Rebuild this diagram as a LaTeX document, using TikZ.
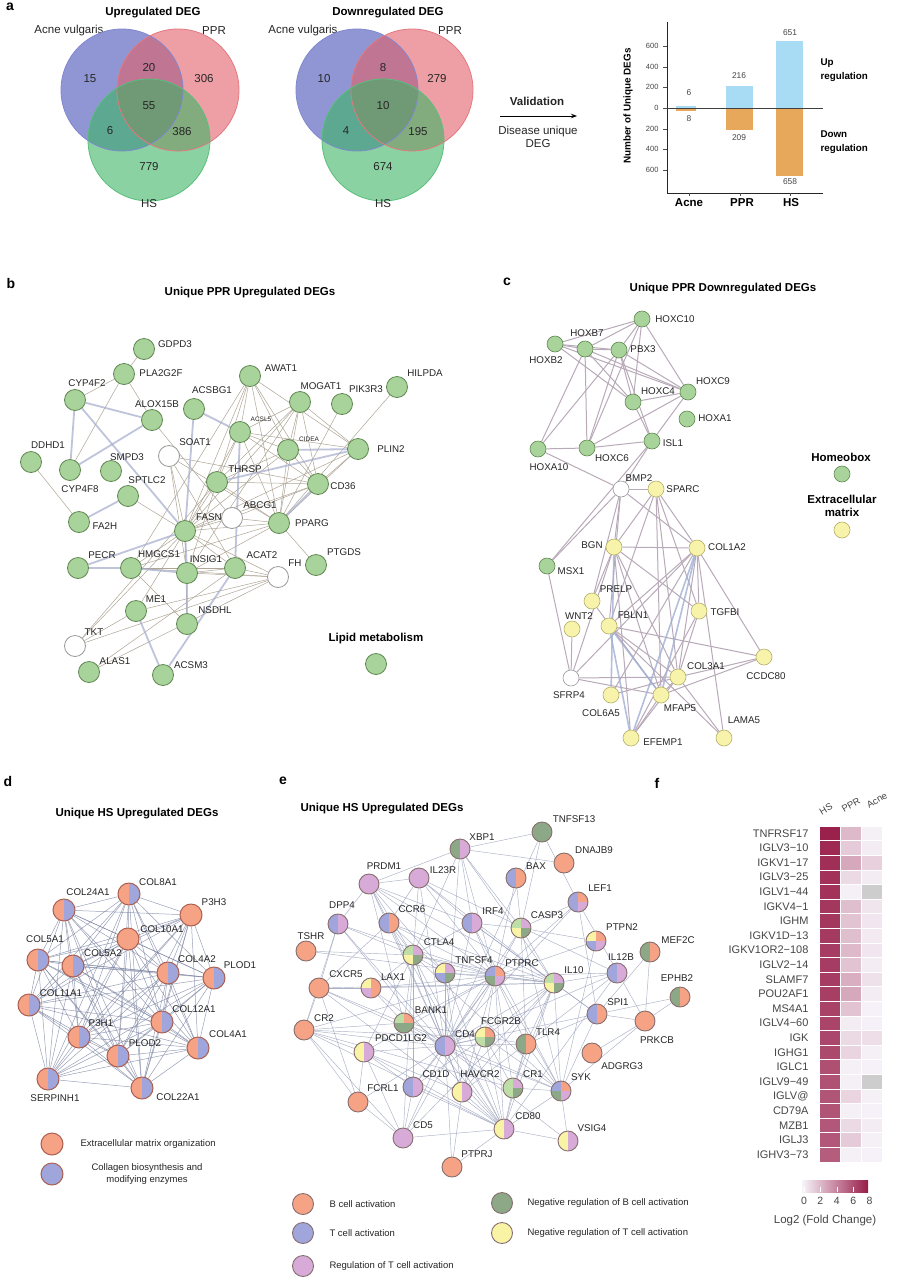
\documentclass[tikz,border=0pt]{standalone}
\usepackage{fontspec}
\setmainfont{Liberation Sans}
\usepackage{tikz}
\usetikzlibrary{positioning,arrows.meta,backgrounds}
\usepackage{xcolor}

\definecolor{vblue}{RGB}{85,95,190}
\definecolor{vred}{RGB}{225,95,105}
\definecolor{vgreen}{RGB}{60,180,100}
\definecolor{barup}{RGB}{168,220,245}
\definecolor{bardn}{RGB}{232,168,92}
\definecolor{lipid}{RGB}{168,212,155}
\definecolor{lipidln}{RGB}{95,135,80}
\definecolor{ecmfill}{RGB}{248,243,170}
\definecolor{ecmln}{RGB}{180,175,105}
\definecolor{bo}{RGB}{246,162,132}
\definecolor{tb}{RGB}{160,165,220}
\definecolor{rp}{RGB}{215,170,215}
\definecolor{ng}{RGB}{140,168,135}
\definecolor{ny}{RGB}{248,243,165}
\definecolor{lgr}{RGB}{190,222,168}
\definecolor{hm}{RGB}{152,28,72}
\definecolor{hmlow}{RGB}{247,244,250}
\definecolor{nagray}{RGB}{205,205,205}
\definecolor{txtgray}{RGB}{70,70,70}

% gene node plus its label
\newcommand{\gene}[5]{%
  \node[#1] (#2) at (#3) {};
  \node[lbl] (#2-t) at (#4) {#5};}

\begin{document}
\begin{tikzpicture}[x=1pt, y=-1pt,
  plet/.style={font=\fontsize{14}{16}\selectfont\bfseries},
  ttl/.style={font=\fontsize{11.5}{13}\selectfont\bfseries},
  num/.style={font=\fontsize{11.5}{13}\selectfont, text=black!85},
  lbl/.style={font=\fontsize{9.8}{11}\selectfont, text=black!85},
  lbls/.style={font=\fontsize{6.5}{8}\selectfont, text=black!85},
  leg/.style={font=\fontsize{9.5}{11.5}\selectfont, text=black!85},
  tick/.style={font=\fontsize{7.5}{9}\selectfont, text=txtgray},
  hdr/.style={font=\fontsize{9.5}{11}\selectfont, text=txtgray, rotate=30},
  gnode/.style={circle, draw, inner sep=0pt, line width=0.8pt},
  lipidn/.style={gnode, minimum size=21pt, fill=lipid, draw=lipidln},
  whiteb/.style={gnode, minimum size=21pt, fill=white, draw=black!40},
  homeo/.style={gnode, minimum size=16pt, fill=lipid, draw=lipidln, line width=0.6pt},
  ecm/.style={gnode, minimum size=16pt, fill=ecmfill, draw=ecmln, line width=0.6pt},
  whitec/.style={gnode, minimum size=16pt, fill=white, draw=black!40, line width=0.6pt},
  quad/.style n args={4}{path picture={
    \fill[#1] (path picture bounding box.center) rectangle (path picture bounding box.north west);
    \fill[#2] (path picture bounding box.center) rectangle (path picture bounding box.north east);
    \fill[#3] (path picture bounding box.center) rectangle (path picture bounding box.south west);
    \fill[#4] (path picture bounding box.center) rectangle (path picture bounding box.south east);}},
  half/.style 2 args={quad={#1}{#2}{#1}{#2}},
  col/.style={gnode, minimum size=22pt, draw={rgb,255:red,170;green,95;blue,80}, line width=1pt},
  en/.style={gnode, minimum size=20pt, draw={rgb,255:red,135;green,110;blue,110}, line width=0.9pt},
  eb/.style={draw={rgb,255:red,175;green,165;blue,150}, line width=0.5pt},
  ebk/.style={draw={rgb,255:red,165;green,172;blue,205}, line width=1.8pt, opacity=.7},
  ec/.style={draw={rgb,255:red,185;green,170;blue,185}, line width=1pt},
  ecb/.style={draw={rgb,255:red,160;green,175;blue,210}, line width=1.6pt, opacity=.8},
  ed/.style={draw={rgb,255:red,120;green,128;blue,160}, line width=0.5pt, opacity=.75},
  ee/.style={draw={rgb,255:red,150;green,158;blue,185}, line width=0.45pt, opacity=.8}
]
\useasboundingbox (0,0) rectangle (901,1280);
\begin{pgfonlayer}{background}
  \fill[white] (0,0) rectangle (901,1280);
\end{pgfonlayer}

% ---------- a: venns ----------
\node[plet] (pa) at (10,7) {a};
\node[ttl] (v1-t) at (153,13) {Upregulated DEG};
\node[num] (v1-a) at (69,31) {Acne vulgaris};
\node[num] (v1-p) at (214,31) {PPR};
\fill[vblue, fill opacity=.65] (122,90) circle[radius=61pt];
\fill[vred, fill opacity=.6] (178,90) circle[radius=61pt];
\fill[vgreen, fill opacity=.6] (149,140) circle[radius=61pt];
\draw[vblue!75, line width=.8pt] (122,90) circle[radius=61pt];
\draw[vred!85, line width=.8pt] (178,90) circle[radius=61pt];
\draw[vgreen!85, line width=.8pt] (149,140) circle[radius=61pt];
\node[num] (v1-n1) at (90,79) {15};
\node[num] (v1-n2) at (149,68) {20};
\node[num] (v1-n3) at (204,79) {306};
\node[num] (v1-n4) at (149,106) {55};
\node[num] (v1-n5) at (110,131) {6};
\node[num] (v1-n6) at (182,132) {386};
\node[num] (v1-n7) at (149,167) {779};
\node[num] (v1-h) at (149,204) {HS};

\node[ttl] (v2-t) at (388,13) {Downregulated DEG};
\node[num] (v2-a) at (303,31) {Acne vulgaris};
\node[num] (v2-p) at (450,31) {PPR};
\fill[vblue, fill opacity=.65] (357,90) circle[radius=61pt];
\fill[vred, fill opacity=.6] (412,90) circle[radius=61pt];
\fill[vgreen, fill opacity=.6] (383,140) circle[radius=61pt];
\draw[vblue!75, line width=.8pt] (357,90) circle[radius=61pt];
\draw[vred!85, line width=.8pt] (412,90) circle[radius=61pt];
\draw[vgreen!85, line width=.8pt] (383,140) circle[radius=61pt];
\node[num] (v2-n1) at (324,79) {10};
\node[num] (v2-n2) at (383,68) {8};
\node[num] (v2-n3) at (437,79) {279};
\node[num] (v2-n4) at (383,106) {10};
\node[num] (v2-n5) at (346,131) {4};
\node[num] (v2-n6) at (418,132) {195};
\node[num] (v2-n7) at (383,167) {674};
\node[num] (v2-h) at (383,204) {HS};

% validation arrow
\node[num, font=\fontsize{11.5}{13}\selectfont\bfseries] (val) at (537,101) {Validation};
\coordinate (va) at (500,116);
\coordinate (vb) at (577,116);
\draw[-{Stealth[length=6pt]}, line width=1pt] (va) -- (vb);
\node[num, align=center] (dud) at (538,137) {Disease unique\\DEG};

% bar chart
\fill[barup] (676,105.5) rectangle (696,108);
\fill[bardn] (676,108) rectangle (696,110.5);
\fill[barup] (726,85.7) rectangle (753,108);
\fill[bardn] (726,108) rectangle (753,129.6);
\fill[barup] (776,40.7) rectangle (803,108);
\fill[bardn] (776,108) rectangle (803,176);
\draw[line width=.8pt, black!85] (667,22) -- (667,193) -- (823,193);
\draw[line width=.8pt, black!75] (667,108) -- (823,108);
\foreach \v/\y [count=\k] in {600/46, 400/67, 200/87, 0/108, 200/129, 400/149, 600/170} {
  \draw[black!70] (663,\y) -- (667,\y);
  \node[tick, anchor=east] (yt\k) at (662,\y) {\v};
}
\foreach \x in {689,740,790} \draw[black!70] (\x,193) -- (\x,196);
\node[font=\fontsize{9.9}{11}\selectfont\bfseries, rotate=90] (ylab) at (628,106) {Number of Unique DEGs};
\node[tick, font=\fontsize{8.4}{10}\selectfont] (b1u) at (689,93) {6};
\node[tick, font=\fontsize{8.4}{10}\selectfont] (b1d) at (689,119) {8};
\node[tick, font=\fontsize{8.4}{10}\selectfont] (b2u) at (739,76) {216};
\node[tick, font=\fontsize{8.4}{10}\selectfont] (b2d) at (739,138) {209};
\node[tick, font=\fontsize{8.4}{10}\selectfont] (b3u) at (790,33) {651};
\node[tick, font=\fontsize{8.4}{10}\selectfont] (b3d) at (790,182) {658};
\node[font=\fontsize{11.5}{13}\selectfont\bfseries] (cat1) at (689,203) {Acne};
\node[font=\fontsize{11.5}{13}\selectfont\bfseries] (cat2) at (742,203) {PPR};
\node[font=\fontsize{11.5}{13}\selectfont\bfseries] (cat3) at (791,203) {HS};
\node[font=\fontsize{9.8}{14.5}\selectfont\bfseries, anchor=west, align=left] (upr) at (817,70) {Up\\regulation};
\node[font=\fontsize{9.8}{14.5}\selectfont\bfseries, anchor=west, align=left] (dnr) at (817,142) {Down\\regulation};

% ---------- b ----------
\node[plet] (pb) at (11,283) {b};
\node[ttl] (b-t) at (250,293) {Unique PPR Upregulated DEGs};
\gene{lipidn}{gdpd3}{144,349}{175,344}{GDPD3}
\gene{lipidn}{pla2g2f}{124,374}{161,373}{PLA2G2F}
\gene{lipidn}{cyp4f2}{75,400}{87,383}{CYP4F2}
\gene{lipidn}{alox15b}{152,420}{157,404}{ALOX15B}
\gene{lipidn}{acsbg1}{194,409}{212,390}{ACSBG1}
\gene{lipidn}{awat1}{250,376}{281,368}{AWAT1}
\gene{lipidn}{mogat1}{300,402}{321,386}{MOGAT1}
\gene{lipidn}{pik3r3}{342,404}{366,389}{PIK3R3}
\gene{lipidn}{hilpda}{397,387}{425,373}{HILPDA}
\node[lipidn] (acsl5) at (240,432) {};
\node[lbls] (acsl5-t) at (261,419) {ACSL5};
\node[lipidn] (cidea) at (288,450) {};
\node[lbls] (cidea-t) at (309,439) {CIDEA};
\gene{lipidn}{plin2}{358,449}{391,449}{PLIN2}
\gene{whiteb}{soat1}{169,456}{195,442}{SOAT1}
\gene{lipidn}{ddhd1}{31,462}{48,445}{DDHD1}
\gene{lipidn}{cyp4f8}{70,470}{80,489}{CYP4F8}
\gene{lipidn}{smpd3}{111,471}{127,457}{SMPD3}
\gene{lipidn}{thrsp}{217,482}{245,469}{THRSP}
\gene{lipidn}{cd36}{318,484}{343,486}{CD36}
\gene{lipidn}{sptlc2}{128,496}{147,480}{SPTLC2}
\gene{whiteb}{abcg1}{232,518}{260,505}{ABCG1}
\gene{lipidn}{fasn}{185,531}{209,517}{FASN}
\gene{lipidn}{pparg}{279,523}{312,523}{PPARG}
\gene{lipidn}{fa2h}{79,522}{105,526}{FA2H}
\gene{lipidn}{ptgds}{316,565}{344,552}{PTGDS}
\gene{lipidn}{pecr}{78,568}{102,555}{PECR}
\gene{lipidn}{hmgcs1}{131,568}{159,554}{HMGCS1}
\gene{lipidn}{insig1}{187,573}{206,559}{INSIG1}
\gene{lipidn}{acat2}{235,568}{262,555}{ACAT2}
\gene{whiteb}{fh}{278,577}{295,563}{FH}
\gene{lipidn}{me1}{136,611}{156,599}{ME1}
\gene{lipidn}{nsdhl}{187,624}{215,610}{NSDHL}
\gene{whiteb}{tkt}{75,646}{94,632}{TKT}
\gene{lipidn}{alas1}{89,672}{115,661}{ALAS1}
\gene{lipidn}{acsm3}{163,675}{191,665}{ACSM3}
\node[ttl] (lip-t) at (376,639) {Lipid metabolism};
\node[lipidn] (lip) at (376,664) {};

\begin{pgfonlayer}{background}
\foreach \u/\v in {gdpd3/pla2g2f, pla2g2f/cyp4f2, pla2g2f/cyp4f8, pla2g2f/alox15b, alox15b/abcg1,
  awat1/acsl5, awat1/cidea, awat1/plin2, awat1/cd36, awat1/pparg, awat1/thrsp, awat1/fasn, awat1/hmgcs1,
  mogat1/cidea, mogat1/cd36, mogat1/plin2, mogat1/pparg, mogat1/thrsp, mogat1/acsl5, mogat1/fasn, mogat1/insig1,
  pik3r3/pparg, hilpda/pparg, acsl5/cidea, acsl5/plin2, acsl5/cd36, acsl5/pparg, acsl5/fasn, acsl5/thrsp,
  cidea/cd36, cidea/pparg, cidea/thrsp, cidea/fasn, plin2/cd36, plin2/pparg, plin2/fasn,
  soat1/cd36, soat1/pparg, soat1/fasn, soat1/acat2, soat1/insig1, thrsp/cd36, thrsp/fasn, thrsp/pparg,
  thrsp/insig1, thrsp/tkt, cd36/fasn, cd36/abcg1, abcg1/pparg, abcg1/fasn, fasn/pparg, fasn/hmgcs1,
  fasn/acat2, fasn/fh, fasn/nsdhl, fasn/me1, fasn/tkt, fasn/sptlc2, ddhd1/fa2h, pparg/ptgds, pparg/insig1,
  pparg/hmgcs1, hmgcs1/acat2, hmgcs1/nsdhl, hmgcs1/fh, insig1/acat2, insig1/fh, acat2/fh, acat2/alas1,
  fh/tkt, fh/me1, fh/alas1, me1/tkt}
  \draw[eb] (\u) -- (\v);
\foreach \u/\v in {cyp4f2/alox15b, cyp4f2/cyp4f8, cyp4f2/fasn, alox15b/cyp4f8, acsbg1/acsl5, acsbg1/fasn,
  cidea/plin2, plin2/thrsp, cd36/pparg, sptlc2/fa2h, pecr/hmgcs1, pecr/fasn, hmgcs1/insig1, insig1/nsdhl,
  fasn/insig1, acsl5/acat2, acat2/acsm3, me1/acsm3}
  \draw[ebk] (\u) -- (\v);
\end{pgfonlayer}

% ---------- c ----------
\node[plet] (pc) at (507,282) {c};
\node[ttl] (c-t) at (723,289) {Unique PPR Downregulated DEGs};
\gene{homeo}{hoxc10}{642,319}{675,319}{HOXC10}
\gene{homeo}{hoxb7}{585,349}{587,333}{HOXB7}
\gene{homeo}{hoxb2}{555,344}{546,360}{HOXB2}
\gene{homeo}{pbx3}{619,350}{643,349}{PBX3}
\gene{homeo}{hoxc9}{688,392}{713,381}{HOXC9}
\gene{homeo}{hoxc4}{633,402}{658,391}{HOXC4}
\gene{homeo}{hoxa1}{687,419}{715,418}{HOXA1}
\gene{homeo}{isl1}{652,441}{673,443}{ISL1}
\gene{homeo}{hoxa10}{538,449}{549,467}{HOXA10}
\gene{homeo}{hoxc6}{587,448}{612,458}{HOXC6}
\gene{whitec}{bmp2}{621,489}{639,478}{BMP2}
\gene{ecm}{sparc}{656,489}{683,489}{SPARC}
\gene{ecm}{bgn}{614,547}{592,545}{BGN}
\gene{ecm}{col1a2}{697,548}{727,547}{COL1A2}
\gene{homeo}{msx1}{547,566}{571,571}{MSX1}
\gene{ecm}{prelp}{592,601}{616,589}{PRELP}
\gene{ecm}{tgfbi}{699,611}{725,612}{TGFBI}
\gene{ecm}{wnt2}{572,629}{579,616}{WNT2}
\gene{ecm}{fbln1}{609,626}{633,615}{FBLN1}
\gene{ecm}{ccdc80}{764,657}{766,676}{CCDC80}
\gene{ecm}{col3a1}{678,677}{706,666}{COL3A1}
\gene{whitec}{sfrp4}{571,678}{569,695}{SFRP4}
\gene{ecm}{col6a5}{611,695}{601,713}{COL6A5}
\gene{ecm}{mfap5}{661,695}{680,708}{MFAP5}
\gene{ecm}{efemp1}{631,738}{663,742}{EFEMP1}
\gene{ecm}{lama5}{724,738}{744,720}{LAMA5}
\node[ttl] (hb-t) at (841,457) {Homeobox};
\node[homeo] (hb) at (842,474) {};
\node[ttl, align=center] (em-t) at (842,506) {Extracellular\\matrix};
\node[ecm] (em) at (842,530) {};

\begin{pgfonlayer}{background}
\foreach \u/\v in {hoxb2/hoxc4, hoxb2/hoxc9, hoxb7/hoxc10, hoxb7/hoxc6, hoxb7/hoxc9, pbx3/hoxc10, pbx3/hoxc6,
  pbx3/hoxc4, pbx3/hoxa10, pbx3/isl1, pbx3/hoxc9, hoxc10/hoxc4, hoxc10/hoxc9, hoxc10/hoxc6, hoxc10/hoxb2,
  hoxc4/hoxc9, hoxc4/isl1, hoxc9/hoxc6, hoxc9/isl1, hoxa10/hoxc6, hoxa10/hoxb7, hoxa10/bmp2, isl1/msx1,
  isl1/bmp2, hoxc6/isl1, hoxb2/hoxb7, hoxb7/pbx3, hoxb2/pbx3, hoxb7/hoxc4,
  bmp2/sparc, bmp2/msx1, bmp2/col1a2, bmp2/bgn, bmp2/fbln1, bmp2/prelp, sparc/bgn, sparc/col1a2,
  sparc/fbln1, sparc/tgfbi, sparc/col3a1, sparc/mfap5, bgn/col1a2, bgn/prelp, bgn/tgfbi, bgn/col3a1,
  bgn/mfap5, bgn/efemp1, col1a2/fbln1, col1a2/tgfbi, col1a2/col3a1, col1a2/ccdc80, col1a2/col6a5,
  col1a2/lama5, col1a2/sfrp4, msx1/sfrp4, wnt2/sfrp4, fbln1/ccdc80, fbln1/col3a1, fbln1/lama5,
  tgfbi/col3a1, tgfbi/efemp1, ccdc80/col3a1, ccdc80/mfap5, col3a1/sfrp4, col3a1/mfap5, col3a1/col6a5,
  col3a1/efemp1, col3a1/lama5, sfrp4/mfap5, mfap5/efemp1, prelp/mfap5, sfrp4/bgn}
  \draw[ec] (\u) -- (\v);
\foreach \u/\v in {fbln1/mfap5, fbln1/efemp1, col1a2/mfap5, col1a2/efemp1, bgn/col6a5}
  \draw[ecb] (\u) -- (\v);
\end{pgfonlayer}

% ---------- d ----------
\node[plet] (pd) at (8,781) {d};
\node[ttl] (d-t) at (137,814) {Unique HS Upregulated DEGs};
\gene{col, half={bo}{tb}}{col8a1}{129,894}{158,882}{COL8A1}
\gene{col, half={bo}{tb}}{col24a1}{64,910}{88,892}{COL24A1}
\gene{col, fill=bo}{p3h3}{191,915}{214,902}{P3H3}
\gene{col, fill=bo}{col10a1}{128,939}{162,929}{COL10A1}
\gene{col, half={bo}{tb}}{col5a1}{38,960}{45,939}{COL5A1}
\gene{col, half={bo}{tb}}{col5a2}{73,966}{103,953}{COL5A2}
\gene{col, half={bo}{tb}}{col4a2}{168,973}{197,959}{COL4A2}
\gene{col, half={bo}{tb}}{plod1}{214,978}{240,965}{PLOD1}
\gene{col, half={bo}{tb}}{col11a1}{29,1005}{61,993}{COL11A1}
\gene{col, half={bo}{tb}}{col12a1}{162,1022}{194,1009}{COL12A1}
\gene{col, half={bo}{tb}}{p3h1}{79,1037}{101,1023}{P3H1}
\gene{col, half={bo}{tb}}{col4a1}{198,1048}{228,1034}{COL4A1}
\gene{col, half={bo}{tb}}{plod2}{118,1056}{145,1043}{PLOD2}
\gene{col, half={bo}{tb}}{serpinh1}{48,1079}{55,1098}{SERPINH1}
\gene{col, half={bo}{tb}}{col22a1}{142,1088}{178,1097}{COL22A1}
\node[col, fill=bo] (ecmo) at (52,1144) {};
\node[leg, anchor=west] (ecmo-t) at (77,1144) {Extracellular matrix organization};
\node[col, fill=tb] (cbme) at (52,1174) {};
\node[leg, align=center] (cbme-t) at (147,1174) {Collagen biosynthesis and\\modifying enzymes};

\begin{pgfonlayer}{background}
\foreach \u [count=\i] in {col8a1,col24a1,p3h3,col10a1,col5a1,col5a2,col4a2,plod1,col11a1,col12a1,p3h1,col4a1,plod2,serpinh1,col22a1} {
  \foreach \v [count=\j] in {col8a1,col24a1,p3h3,col10a1,col5a1,col5a2,col4a2,plod1,col11a1,col12a1,p3h1,col4a1,plod2,serpinh1,col22a1} {
    \ifnum\j>\i \draw[ed] (\u) -- (\v); \fi
  }
}
\end{pgfonlayer}

% ---------- e ----------
\node[plet] (pe) at (283,781) {e};
\node[ttl] (e-t) at (382,809) {Unique HS Upregulated DEGs};
\gene{en, fill=ng}{tnfsf13}{542,832}{574,819}{TNFSF13}
\gene{en, half={ng}{rp}}{xbp1}{460,849}{482,837}{XBP1}
\gene{en, fill=bo}{dnajb9}{564,863}{594,850}{DNAJB9}
\gene{en, fill=rp}{prdm1}{369,884}{384,866}{PRDM1}
\gene{en, fill=rp}{il23r}{419,878}{443,870}{IL23R}
\gene{en, half={tb}{bo}}{bax}{516,878}{536,866}{BAX}
\gene{en, quad={tb}{bo}{tb}{rp}}{lef1}{578,902}{600,888}{LEF1}
\gene{en, half={tb}{rp}}{dpp4}{338,924}{342,905}{DPP4}
\gene{en, half={tb}{bo}}{ccr6}{389,923}{412,909}{CCR6}
\gene{en, half={tb}{rp}}{irf4}{472,923}{493,911}{IRF4}
\gene{en, quad={lgr}{rp}{ny}{ng}}{casp3}{521,928}{547,915}{CASP3}
\gene{en, fill=bo}{tshr}{306,951}{311,936}{TSHR}
\gene{en, quad={ny}{bo}{tb}{rp}}{ptpn2}{596,941}{622,927}{PTPN2}
\gene{en, half={ng}{bo}}{mef2c}{650,952}{678,940}{MEF2C}
\gene{en, quad={lgr}{rp}{ny}{ng}}{ctla4}{413,955}{439,942}{CTLA4}
\gene{en, half={tb}{rp}}{il12b}{617,973}{621,957}{IL12B}
\gene{en, quad={ny}{rp}{tb}{ng}}{tnfsf4}{445,973}{474,960}{TNFSF4}
\gene{en, quad={tb}{bo}{ng}{rp}}{ptprc}{495,976}{522,963}{PTPRC}
\gene{en, quad={lgr}{rp}{ny}{ng}}{il10}{554,983}{574,970}{IL10}
\gene{en, fill=bo}{cxcr5}{319,988}{346,974}{CXCR5}
\gene{en, quad={ny}{bo}{rp}{bo}}{lax1}{371,988}{393,977}{LAX1}
\gene{en, half={ng}{bo}}{ephb2}{680,997}{677,978}{EPHB2}
\gene{en, half={tb}{bo}}{spi1}{597,1014}{618,1002}{SPI1}
\gene{en, quad={lgr}{bo}{ng}{ng}}{bank1}{404,1023}{431,1010}{BANK1}
\gene{en, fill=bo}{cr2}{304,1030}{324,1018}{CR2}
\gene{en, fill=bo}{prkcb}{645,1021}{657,1040}{PRKCB}
\gene{en, quad={ny}{bo}{lgr}{ng}}{fcgr2b}{485,1037}{501,1021}{FCGR2B}
\gene{en, half={tb}{rp}}{cd4}{445,1046}{465,1034}{CD4}
\gene{en, half={ng}{bo}}{tlr4}{526,1044}{548,1032}{TLR4}
\gene{en, half={ny}{rp}}{pdcd1lg2}{364,1052}{401,1038}{PDCD1LG2}
\gene{en, fill=bo}{adgrg3}{592,1053}{622,1066}{ADGRG3}
\gene{en, half={tb}{rp}}{cd1d}{413,1087}{436,1074}{CD1D}
\gene{en, half={ny}{rp}}{havcr2}{462,1092}{480,1074}{HAVCR2}
\gene{en, quad={lgr}{rp}{lgr}{ng}}{cr1}{513,1088}{533,1074}{CR1}
\gene{en, quad={tb}{bo}{ng}{rp}}{syk}{561,1091}{581,1077}{SYK}
\gene{en, fill=bo}{fcrl1}{358,1102}{383,1088}{FCRL1}
\gene{en, fill=rp}{cd5}{403,1138}{423,1125}{CD5}
\gene{en, half={ny}{rp}}{cd80}{504,1129}{528,1116}{CD80}
\gene{en, half={ny}{rp}}{vsig4}{568,1141}{592,1128}{VSIG4}
\gene{en, fill=bo}{ptprj}{452,1167}{477,1154}{PTPRJ}

\node[en, fill=bo, minimum size=21pt] (bca) at (303,1204) {};
\node[leg, anchor=west] (bca-t) at (326,1204) {B cell activation};
\node[en, fill=tb, minimum size=21pt] (tca) at (303,1233) {};
\node[leg, anchor=west] (tca-t) at (326,1233) {T cell activation};
\node[en, fill=rp, minimum size=21pt] (rtc) at (303,1266) {};
\node[leg, anchor=west] (rtc-t) at (326,1266) {Regulation of T cell activation};
\node[en, fill=ng, minimum size=21pt] (nbc) at (502,1203) {};
\node[leg, anchor=west] (nbc-t) at (524,1203) {Negative regulation of B cell activation};
\node[en, fill=ny, minimum size=21pt] (ntc) at (502,1233) {};
\node[leg, anchor=west] (ntc-t) at (524,1233) {Negative regulation of T cell activation};

\begin{pgfonlayer}{background}
\foreach \s/\tl in {tnfsf13/{casp3,xbp1,cd4,lef1},
  xbp1/{dnajb9,prdm1,irf4,ptprc,il10,cd4,casp3,ctla4},
  prdm1/{dpp4,ccr6,irf4,il10,ctla4,cd4,ptprc,bank1,tnfsf4,il23r},
  il23r/{ccr6,il10,cd4,ptprc,ctla4,il12b,irf4},
  bax/{casp3,ptprc}, lef1/{casp3,cd4,ptprc,spi1,prkcb},
  dpp4/{cd4,ptprc,ctla4,cd80,cr2,cxcr5},
  ccr6/{cxcr5,ctla4,cd4,ptprc,il10,cd80,tnfsf4},
  irf4/{ptprc,il10,cd4,ctla4,spi1,casp3,syk},
  casp3/{ptprc,il10,tlr4,cd4,ptpn2,syk},
  tshr/{ctla4,il10}, ptpn2/{ptprc,syk}, mef2c/{spi1,prkcb},
  ctla4/{cd4,cd80,ptprc,il10,tnfsf4,havcr2,pdcd1lg2,cd5,cd1d,syk,lax1,bank1},
  il12b/{il10,cd4,tlr4,ptprc,cd80},
  tnfsf4/{cd4,ptprc,cd80,il10,havcr2},
  ptprc/{cd4,il10,cd80,syk,tlr4,fcgr2b,cd5,cd1d,bank1,lax1,cr2,havcr2,cr1,pdcd1lg2},
  il10/{cd4,cd80,tlr4,syk,spi1,fcgr2b,havcr2,cr1,cxcr5,lax1,cd5},
  cxcr5/{cr2,cd4,lax1,bank1,cd80,fcrl1},
  lax1/{cd4,bank1}, ephb2/{spi1,prkcb}, spi1/{syk,tlr4,prkcb,cd4},
  bank1/{cd4,fcgr2b,syk,cr2,cd80},
  cr2/{cd4,cr1,fcrl1,pdcd1lg2,cd5,cd80,fcgr2b},
  prkcb/{syk,adgrg3},
  fcgr2b/{cd4,syk,tlr4,cr1,cd80,havcr2,cd1d},
  cd4/{cd80,cd5,cd1d,havcr2,tlr4,cr1,syk,pdcd1lg2,ptprj,vsig4,fcrl1},
  tlr4/{cd80,syk,cr1,havcr2},
  pdcd1lg2/{cd80,cd5,cd1d,havcr2,fcrl1},
  cd1d/{cd5,cd80}, havcr2/{cd80,ptprj}, cr1/{cd80,syk}, syk/{cd80,vsig4},
  fcrl1/{cd5}, cd5/{cd80}, cd80/{ptprj,vsig4}} {
  \foreach \t in \tl {\draw[ee] (\s) -- (\t);}
}
\end{pgfonlayer}

% ---------- f: heatmap ----------
\node[plet] (pf) at (657,783) {f};
\node[hdr] (hs-h) at (826,809) {HS};
\node[hdr] (ppr-h) at (851,805) {PPR};
\node[hdr] (acne-h) at (877,800) {Acne};
\foreach \g/\h/\p/\a [count=\i] in {TNFRSF17/7.8/2.2/0.2, IGLV3−10/7.5/1.5/0.3, IGKV1−17/7.3/2.8/1.3,
  IGLV3−25/7.2/1.0/0.3, IGLV1−44/7.2/0.2/0, IGKV4−1/7.0/2.0/0.6, IGHM/7.0/1.8/0.5,
  IGKV1D−13/6.9/2.0/0.4, IGKV1OR2−108/6.8/2.2/0.5, IGLV2−14/6.8/1.8/0.3, SLAMF7/6.8/2.6/0.7,
  POU2AF1/6.7/2.8/0.3, MS4A1/6.6/1.8/0.1, IGLV4−60/6.5/0.3/0.1, IGK/6.4/1.0/0.8, IGHG1/6.3/1.2/0.2,
  IGLC1/6.1/0.2/0.1, IGLV9−49/6.0/0.2/0, IGLV@/5.9/1.2/0.2, CD79A/5.9/0.2/0.1, MZB1/5.8/1.0/0.3,
  IGLJ3/5.8/1.5/0.2, IGHV3−73/5.6/0.2/0.1} {
  \pgfmathsetmacro\yt{826+(\i-1)*14.6}
  \pgfmathsetmacro\yb{\yt+14.6}
  \pgfmathsetmacro\ch{\h*12.5}
  \pgfmathsetmacro\cp{\p*12.5}
  \pgfmathsetmacro\ca{\a*12.5}
  \filldraw[fill=hm!\ch!hmlow, draw=white, line width=.6pt] (819,\yt) rectangle (840,\yb);
  \filldraw[fill=hm!\cp!hmlow, draw=white, line width=.6pt] (840,\yt) rectangle (861,\yb);
  \filldraw[fill=hm!\ca!hmlow, draw=white, line width=.6pt] (861,\yt) rectangle (882,\yb);
  \node[font=\fontsize{11}{12}\selectfont, text=txtgray, anchor=east] (row\i) at (812,\yt+7.3) {\g};
}
\filldraw[fill=nagray, draw=white, line width=.6pt] (861,884.4) rectangle (882,899);
\filldraw[fill=nagray, draw=white, line width=.6pt] (861,1074.2) rectangle (882,1088.8);
% colour bar
\shade[left color=hmlow, right color=hm] (802,1180) rectangle (868,1192);
\foreach \v [count=\k] in {0,2,4,6,8} {
  \pgfmathsetmacro\xv{804+\v*8.2}
  \draw[white, line width=.4pt] (\xv,1187) -- (\xv,1192);
  \node[font=\fontsize{10.5}{12}\selectfont, text=txtgray] (cb\k) at (\xv,1201) {\v};
}
\node[font=\fontsize{11.5}{13}\selectfont, text=txtgray] (cb-t) at (825,1221) {Log2 (Fold Change)};
\end{tikzpicture}
\end{document}
